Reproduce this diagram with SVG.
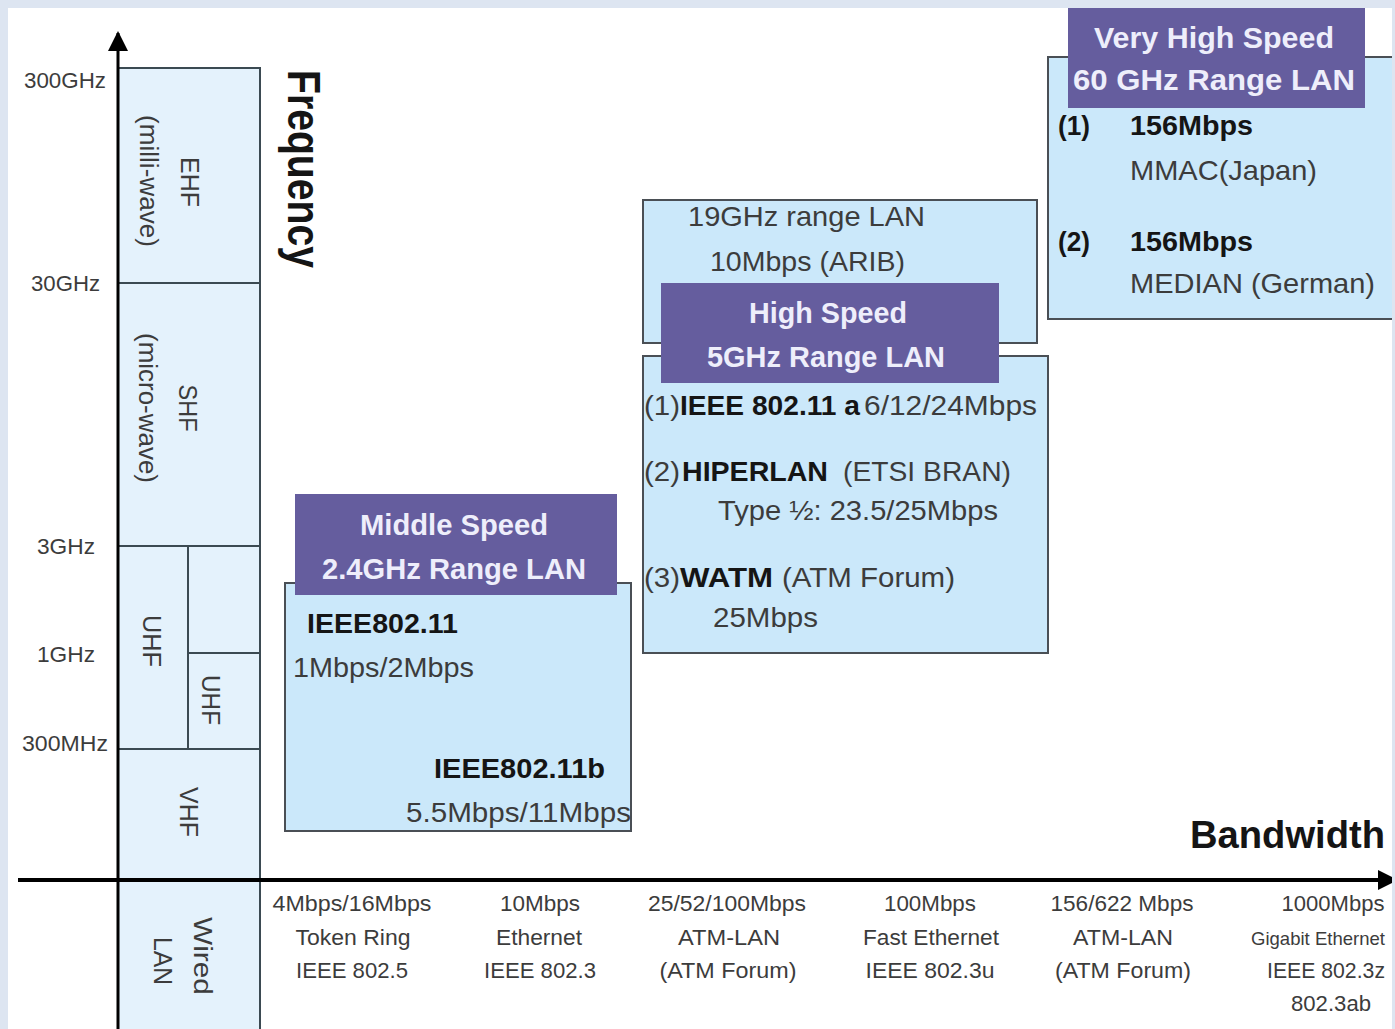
<svg xmlns="http://www.w3.org/2000/svg" width="1395" height="1029" viewBox="0 0 1395 1029">
<defs>
<style>
text{font-family:"Liberation Sans",Arial,sans-serif;fill:#3c3c3c}
.b{font-weight:bold;fill:#151515}
.hdr{font-weight:bold;fill:#eeeefb;font-size:30px;text-anchor:middle}
.frq{font-size:22px}
.rot{font-size:25px;text-anchor:middle;dominant-baseline:central}
.box{font-size:28px}
.bot{font-size:22px;text-anchor:middle}
.col{fill:#e4f2fc;stroke:#3b4a52;stroke-width:2}
.ln{stroke:#3b4a52;stroke-width:2;fill:none}
.node{fill:#cbe8fa;stroke:#4a4f55;stroke-width:2}
.head{fill:#655d9e}
.axis{stroke:#000;fill:none}
</style>
<marker id="arr" viewBox="0 0 20 20" refX="18" refY="10" markerWidth="20" markerHeight="20" markerUnits="userSpaceOnUse" orient="auto">
<path d="M0,0 L20,10 L0,20 Z" fill="#000"/>
</marker>
</defs>
<rect x="0" y="0" width="1395" height="1029" fill="#ffffff"/>

<g id="bands">
<rect class="col" x="118" y="68" width="142" height="812"/>
<rect class="col" x="118" y="880" width="142" height="160"/>
<line class="ln" x1="118" y1="283" x2="260" y2="283"/>
<line class="ln" x1="118" y1="546" x2="260" y2="546"/>
<line class="ln" x1="118" y1="749" x2="260" y2="749"/>
<line class="ln" x1="188" y1="546" x2="188" y2="749"/>
<line class="ln" x1="188" y1="653" x2="260" y2="653"/>
<text class="rot" transform="translate(190,182) rotate(90)" textLength="50" lengthAdjust="spacingAndGlyphs">EHF</text>
<text class="rot" transform="translate(149,181) rotate(90)" textLength="132" lengthAdjust="spacingAndGlyphs">(milli-wave)</text>
<text class="rot" transform="translate(188,408) rotate(90)" textLength="47" lengthAdjust="spacingAndGlyphs">SHF</text>
<text class="rot" transform="translate(148,408) rotate(90)" textLength="150" lengthAdjust="spacingAndGlyphs">(micro-wave)</text>
<text class="rot" transform="translate(152,641) rotate(90)" textLength="52" lengthAdjust="spacingAndGlyphs">UHF</text>
<text class="rot" transform="translate(211,700) rotate(90)" textLength="50" lengthAdjust="spacingAndGlyphs">UHF</text>
<text class="rot" transform="translate(189,812) rotate(90)" textLength="50" lengthAdjust="spacingAndGlyphs">VHF</text>
<text class="rot" transform="translate(203,956) rotate(90)" textLength="78" lengthAdjust="spacingAndGlyphs">Wired</text>
<text class="rot" transform="translate(163,961) rotate(90)" textLength="48" lengthAdjust="spacingAndGlyphs">LAN</text>
</g>

<g id="freq-labels">
<text class="frq" x="24" y="88" textLength="82" lengthAdjust="spacingAndGlyphs">300GHz</text>
<text class="frq" x="31" y="291" textLength="69" lengthAdjust="spacingAndGlyphs">30GHz</text>
<text class="frq" x="37" y="554" textLength="58" lengthAdjust="spacingAndGlyphs">3GHz</text>
<text class="frq" x="37" y="662" textLength="58" lengthAdjust="spacingAndGlyphs">1GHz</text>
<text class="frq" x="22" y="751" textLength="86" lengthAdjust="spacingAndGlyphs">300MHz</text>
</g>

<g id="axis-titles">
<text class="b" font-size="46" transform="translate(288,169) rotate(90)" text-anchor="middle" textLength="198" lengthAdjust="spacingAndGlyphs">Frequency</text>
<text class="b" font-size="38" x="1190" y="848" textLength="195" lengthAdjust="spacingAndGlyphs">Bandwidth</text>
</g>

<g id="connectors">
<line class="axis" stroke-width="3" x1="118" y1="1029" x2="118" y2="33" marker-end="url(#arr)"/>
<line class="axis" stroke-width="4" x1="18" y1="880" x2="1396" y2="880" marker-end="url(#arr)"/>
</g>

<g id="node-19ghz">
<rect class="node" x="643" y="200" width="394" height="143"/>
<text class="box" x="688" y="226" textLength="237" lengthAdjust="spacingAndGlyphs">19GHz range LAN</text>
<text class="box" x="710" y="271" textLength="195" lengthAdjust="spacingAndGlyphs">10Mbps (ARIB)</text>
</g>

<g id="node-middle">
<rect class="node" x="285" y="583" width="346" height="248"/>
<rect class="head" x="295" y="494" width="322" height="101"/>
<text class="hdr" x="454" y="535" textLength="188" lengthAdjust="spacingAndGlyphs">Middle Speed</text>
<text class="hdr" x="454" y="579" textLength="264" lengthAdjust="spacingAndGlyphs">2.4GHz Range LAN</text>
<text class="box b" font-size="29" x="307" y="633" textLength="151" lengthAdjust="spacingAndGlyphs">IEEE802.11</text>
<text class="box" x="293" y="677" textLength="181" lengthAdjust="spacingAndGlyphs">1Mbps/2Mbps</text>
<text class="box b" font-size="29" x="434" y="778" textLength="171" lengthAdjust="spacingAndGlyphs">IEEE802.11b</text>
<text class="box" x="406" y="822" textLength="225" lengthAdjust="spacingAndGlyphs">5.5Mbps/11Mbps</text>
</g>

<g id="node-high">
<rect class="node" x="643" y="356" width="405" height="297"/>
<rect class="head" x="661" y="283" width="338" height="100"/>
<text class="hdr" x="828" y="323" textLength="158" lengthAdjust="spacingAndGlyphs">High Speed</text>
<text class="hdr" x="826" y="367" textLength="238" lengthAdjust="spacingAndGlyphs">5GHz Range LAN</text>
<text class="box" x="644" y="415" textLength="36" lengthAdjust="spacingAndGlyphs">(1)</text>
<text class="box b" x="680" y="415" textLength="180" lengthAdjust="spacingAndGlyphs">IEEE 802.11 a</text>
<text class="box" x="864" y="415" textLength="173" lengthAdjust="spacingAndGlyphs">6/12/24Mbps</text>
<text class="box" x="644" y="481" textLength="36" lengthAdjust="spacingAndGlyphs">(2)</text>
<text class="box b" x="682" y="481" textLength="146" lengthAdjust="spacingAndGlyphs">HIPERLAN</text>
<text class="box" x="843" y="481" textLength="168" lengthAdjust="spacingAndGlyphs">(ETSI BRAN)</text>
<text class="box" x="718" y="520" textLength="280" lengthAdjust="spacingAndGlyphs">Type ½: 23.5/25Mbps</text>
<text class="box" x="644" y="587" textLength="36" lengthAdjust="spacingAndGlyphs">(3)</text>
<text class="box b" x="680" y="587" textLength="93" lengthAdjust="spacingAndGlyphs">WATM</text>
<text class="box" x="782" y="587" textLength="173" lengthAdjust="spacingAndGlyphs">(ATM Forum)</text>
<text class="box" x="713" y="627" textLength="105" lengthAdjust="spacingAndGlyphs">25Mbps</text>
</g>

<g id="node-veryhigh">
<rect class="node" x="1048" y="57" width="350" height="262"/>
<rect class="head" x="1068" y="0" width="297" height="108"/>
<text class="hdr" x="1214" y="48" textLength="240" lengthAdjust="spacingAndGlyphs">Very High Speed</text>
<text class="hdr" x="1214" y="90" textLength="282" lengthAdjust="spacingAndGlyphs">60 GHz Range LAN</text>
<text class="box b" x="1058" y="135" textLength="32" lengthAdjust="spacingAndGlyphs">(1)</text>
<text class="box b" x="1130" y="135" textLength="123" lengthAdjust="spacingAndGlyphs">156Mbps</text>
<text class="box" x="1130" y="180" textLength="187" lengthAdjust="spacingAndGlyphs">MMAC(Japan)</text>
<text class="box b" x="1058" y="251" textLength="32" lengthAdjust="spacingAndGlyphs">(2)</text>
<text class="box b" x="1130" y="251" textLength="123" lengthAdjust="spacingAndGlyphs">156Mbps</text>
<text class="box" x="1130" y="293" textLength="245" lengthAdjust="spacingAndGlyphs">MEDIAN (German)</text>
</g>

<g id="wired-labels">
<text class="bot" x="352" y="911" textLength="159" lengthAdjust="spacingAndGlyphs">4Mbps/16Mbps</text>
<text class="bot" x="353" y="945" textLength="115" lengthAdjust="spacingAndGlyphs">Token Ring</text>
<text class="bot" x="352" y="978" textLength="112" lengthAdjust="spacingAndGlyphs">IEEE 802.5</text>
<text class="bot" x="540" y="911" textLength="80" lengthAdjust="spacingAndGlyphs">10Mbps</text>
<text class="bot" x="539" y="945" textLength="86" lengthAdjust="spacingAndGlyphs">Ethernet</text>
<text class="bot" x="540" y="978" textLength="112" lengthAdjust="spacingAndGlyphs">IEEE 802.3</text>
<text class="bot" x="727" y="911" textLength="158" lengthAdjust="spacingAndGlyphs">25/52/100Mbps</text>
<text class="bot" x="729" y="945" textLength="102" lengthAdjust="spacingAndGlyphs">ATM-LAN</text>
<text class="bot" x="728" y="978" textLength="137" lengthAdjust="spacingAndGlyphs">(ATM Forum)</text>
<text class="bot" x="930" y="911" textLength="92" lengthAdjust="spacingAndGlyphs">100Mbps</text>
<text class="bot" x="931" y="945" textLength="136" lengthAdjust="spacingAndGlyphs">Fast Ethernet</text>
<text class="bot" x="930" y="978" textLength="129" lengthAdjust="spacingAndGlyphs">IEEE 802.3u</text>
<text class="bot" x="1122" y="911" textLength="143" lengthAdjust="spacingAndGlyphs">156/622 Mbps</text>
<text class="bot" x="1123" y="945" textLength="100" lengthAdjust="spacingAndGlyphs">ATM-LAN</text>
<text class="bot" x="1123" y="978" textLength="136" lengthAdjust="spacingAndGlyphs">(ATM Forum)</text>
<text class="bot" x="1333" y="911" textLength="103" lengthAdjust="spacingAndGlyphs">1000Mbps</text>
<text class="bot" font-size="19" x="1318" y="945" textLength="134" lengthAdjust="spacingAndGlyphs" style="font-size:19px">Gigabit Ethernet</text>
<text class="bot" x="1326" y="978" textLength="118" lengthAdjust="spacingAndGlyphs">IEEE 802.3z</text>
<text class="bot" x="1331" y="1011" textLength="80" lengthAdjust="spacingAndGlyphs">802.3ab</text>
</g>

<path id="frame" fill="#dde5f1" fill-rule="evenodd" d="M0,0 H1395 V1029 H0 Z M8,8 V1029 H1392 V8 Z"/>
</svg>
